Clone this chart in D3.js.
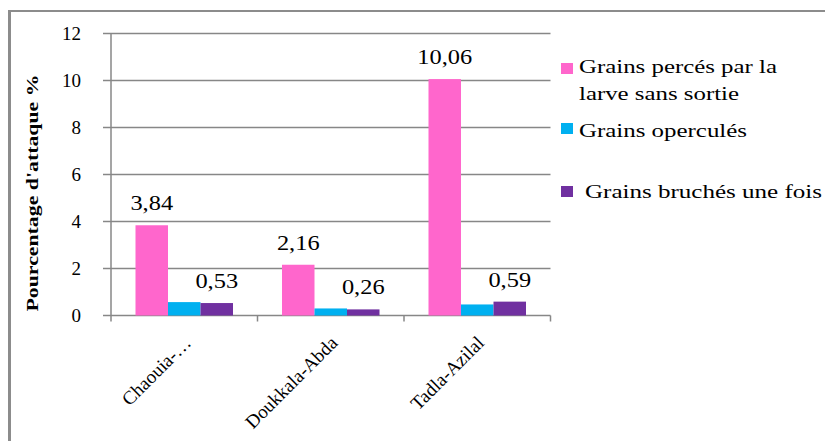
<!DOCTYPE html>
<html>
<head>
<meta charset="utf-8">
<script src="https://cdn.jsdelivr.net/npm/d3@7"></script>
<style>
  body { margin: 0; background: #fff; }
</style>
</head>
<body>
<svg width="825" height="441" font-family="'Liberation Serif', 'DejaVu Serif', serif"></svg>
<script>
// données
const regions = ["Chaouia-…", "Doukkala-Abda", "Tadla-Azilal"];
const series = ["Grains percés par la larve sans sortie", "Grains operculés", "Grains bruchés une fois"];
const perces = [3.84, 2.16, 10.06];
const operc = [0.57, 0.30, 0.47];
const bruches = [0.53, 0.26, 0.59];
const yTicks = [0, 2, 4, 6, 8, 10, 12];
const colors = ["#ff66cc", "#00b0f0", "#7030a0"];

const svg = d3.select("svg");
const grey = "#878787";

// cadre
svg.append("line").attr("x1", 9.5).attr("x2", 9.5).attr("y1", 10).attr("y2", 441)
  .attr("stroke", "#8c8c8c").attr("stroke-width", 3);
svg.append("line").attr("x1", 8).attr("x2", 825).attr("y1", 11).attr("y2", 11)
  .attr("stroke", "#8c8c8c").attr("stroke-width", 2);

const pLeft = 111, pRight = 550.5, pTop = 33.5, pBottom = 315.5;

const x0 = d3.scaleBand().domain(regions).range([pLeft, pRight]).paddingInner(0).paddingOuter(0);
const x1 = d3.scaleBand().domain([0, 1, 2]).range([24.5, x0.bandwidth() - 24.5]);
const y = d3.scaleLinear().domain([0, 12]).range([pBottom, pTop]);

// grille
svg.append("g").selectAll("line").data(yTicks).join("line")
  .attr("x1", pLeft - 8).attr("x2", pRight)
  .attr("y1", d => y(d)).attr("y2", d => y(d))
  .attr("stroke", grey).attr("stroke-width", 1.5);

// axe y
svg.append("line").attr("x1", pLeft).attr("x2", pLeft).attr("y1", pTop).attr("y2", pBottom)
  .attr("stroke", grey).attr("stroke-width", 1.5);
svg.append("g").selectAll("text").data(yTicks).join("text")
  .attr("x", 81).attr("y", d => y(d) + 6)
  .attr("text-anchor", "end").attr("font-size", 19)
  .text(d => d);

// ticks x
const xt = regions.map(r => x0(r)).concat([pRight]);
svg.append("g").selectAll("line").data(xt).join("line")
  .attr("x1", d => d).attr("x2", d => d).attr("y1", pBottom).attr("y2", pBottom + 6)
  .attr("stroke", grey).attr("stroke-width", 1.5);

// barres
const data = [perces, operc, bruches];
const g = svg.append("g");
data.forEach((vals, s) => {
  g.selectAll(".b" + s).data(vals).join("rect")
    .attr("class", "b" + s)
    .attr("x", (d, i) => x0(regions[i]) + x1(s))
    .attr("width", x1.bandwidth())
    .attr("y", d => y(d))
    .attr("height", d => pBottom - y(d))
    .attr("fill", colors[s]);
});

// étiquettes de valeurs
[0, 2].forEach(s => {
  svg.append("g").selectAll("text").data(data[s]).join("text")
    .attr("transform", (d, i) => `translate(${x0(regions[i]) + x1(s) + x1.bandwidth() / 2},${y(d) - 15}) scale(1.22,1)`)
    .attr("text-anchor", "middle").attr("font-size", 20)
    .text(d => d.toFixed(2).replace(".", ","));
});

// étiquettes x
svg.append("g").selectAll("text").data(regions).join("text")
  .attr("transform", r => `translate(${x0(r) + x0.bandwidth() / 2 + 8},344) rotate(-45)`)
  .attr("text-anchor", "end").attr("font-size", 19)
  .text(r => r);

// titre axe y
svg.append("text")
  .attr("transform", "translate(38,193) rotate(-90)")
  .attr("text-anchor", "middle").attr("font-size", 17).attr("font-weight", "bold")
  .attr("textLength", 237).attr("lengthAdjust", "spacingAndGlyphs")
  .text("Pourcentage d'attaque %");

// légende
const legend = [
  { sy: 63, lines: [["Grains percés par la", 73, 198], ["larve sans sortie", 100, 160]], tx: 579 },
  { sy: 123, lines: [["Grains operculés", 137, 168]], tx: 579 },
  { sy: 186, lines: [["Grains bruchés une fois", 198, 237]], tx: 585 }
];
legend.forEach((l, i) => {
  svg.append("rect").attr("x", 561).attr("y", l.sy).attr("width", 12).attr("height", 11)
    .attr("fill", colors[i]);
  l.lines.forEach(([t, by, w]) => {
    svg.append("text").attr("x", l.tx).attr("y", by).attr("font-size", 19)
      .attr("textLength", w).attr("lengthAdjust", "spacingAndGlyphs")
      .text(t);
  });
});
</script>
</body>
</html>
